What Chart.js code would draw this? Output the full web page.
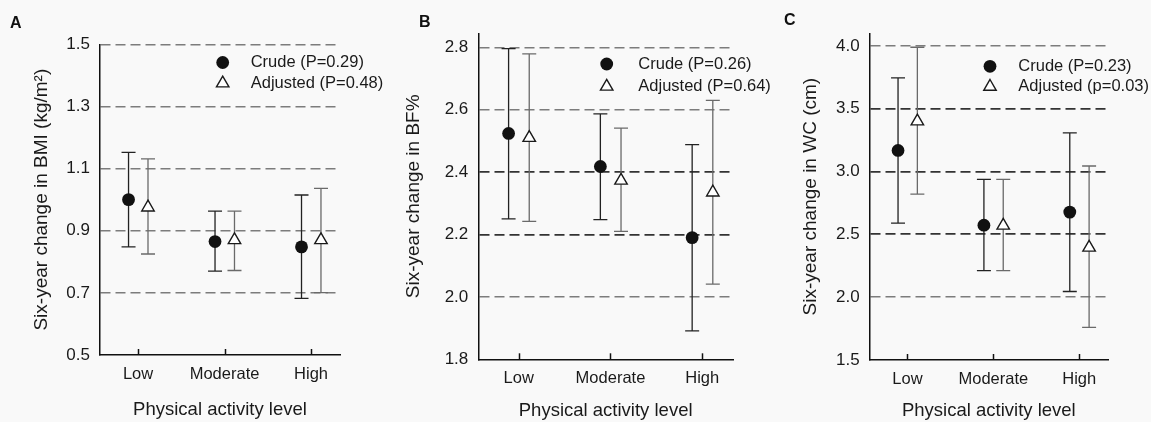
<!DOCTYPE html>
<html>
<head>
<meta charset="utf-8">
<script src="https://cdn.jsdelivr.net/npm/chart.js@4.4.1/dist/chart.umd.min.js"></script>
<style>
  body { margin: 0; background: #f9f9f9; }
  #wrap { position: relative; width: 1151px; height: 422px; overflow: hidden; font-family: "Liberation Sans", Arial, sans-serif; }
  #wrap canvas { position: absolute; left: 0; top: 0; }
  .tag { position: absolute; font-weight: bold; font-size: 16px; line-height: 16px; color: #111; }
</style>
</head>
<body>
<div id="wrap">
  <canvas id="chartA" width="1151" height="422"></canvas>
  <canvas id="chartB" width="1151" height="422"></canvas>
  <canvas id="chartC" width="1151" height="422"></canvas>
  <div class="tag" style="left:10px;top:14.5px">A</div>
  <div class="tag" style="left:419px;top:14px">B</div>
  <div class="tag" style="left:784px;top:11.5px">C</div>
</div>
<script>
const categories = ['Low', 'Moderate', 'High'];

// A: BMI
const bmiTicks = [0.5, 0.7, 0.9, 1.1, 1.3, 1.5];
const bmiLegend = ['Crude (P=0.29)', 'Adjusted (P=0.48)'];
const bmiCrude = [1.000, 0.865, 0.848];
const bmiCrudeLo = [0.848, 0.770, 0.682];
const bmiCrudeHi = [1.152, 0.963, 1.015];
const bmiAdj = [0.975, 0.870, 0.870];
const bmiAdjLo = [0.825, 0.772, 0.701];
const bmiAdjHi = [1.131, 0.963, 1.036];

// B: body fat %
const bfTicks = [1.8, 2.0, 2.2, 2.4, 2.6, 2.8];
const bfLegend = ['Crude (P=0.26)', 'Adjusted (P=0.64)'];
const bfCrude = [2.524, 2.418, 2.190];
const bfCrudeLo = [2.250, 2.248, 1.891];
const bfCrudeHi = [2.796, 2.587, 2.488];
const bfAdj = [2.510, 2.373, 2.335];
const bfAdjLo = [2.242, 2.210, 2.041];
const bfAdjHi = [2.779, 2.541, 2.630];

// C: waist circumference
const wcTicks = [1.5, 2.0, 2.5, 3.0, 3.5, 4.0];
const wcLegend = ['Crude (P=0.23)', 'Adjusted (p=0.03)'];
const wcCrude = [3.168, 2.573, 2.677];
const wcCrudeLo = [2.589, 2.212, 2.045];
const wcCrudeHi = [3.745, 2.937, 3.307];
const wcAdj = [3.400, 2.570, 2.395];
const wcAdjLo = [2.820, 2.212, 1.760];
const wcAdjHi = [3.989, 2.937, 3.044];

const W = 1151, H = 422;
const Y_WIDTH = 100;
const TXT = '#1a1a1a';
const FONT = '"Liberation Sans", Arial, sans-serif';
Chart.defaults.font.family = FONT;
Chart.defaults.color = TXT;

const errorBars = {
  id: 'errorBars',
  beforeDatasetsDraw(chart) {
    const ctx = chart.ctx, xs = chart.scales.x, ys = chart.scales.y;
    chart.data.datasets.forEach(ds => {
      ctx.save();
      ctx.strokeStyle = ds.barColor;
      ctx.lineWidth = 1.3;
      ds.data.forEach((p, i) => {
        const x = xs.getPixelForValue(p.x);
        const yl = ys.getPixelForValue(ds.lo[i]);
        const yh = ys.getPixelForValue(ds.hi[i]);
        ctx.beginPath();
        ctx.moveTo(x, yl); ctx.lineTo(x, yh);
        ctx.moveTo(x - 7, yl); ctx.lineTo(x + 7, yl);
        ctx.moveTo(x - 7, yh); ctx.lineTo(x + 7, yh);
        ctx.stroke();
      });
      ctx.restore();
    });
  }
};

// tick marks on the x axis point into the plot
const innerTicks = {
  id: 'innerTicks',
  afterDraw(chart) {
    const ctx = chart.ctx, xs = chart.scales.x, b = chart.chartArea.bottom;
    ctx.save();
    ctx.strokeStyle = '#111';
    ctx.lineWidth = 1.5;
    xs.ticks.forEach(t => {
      const x = Math.round(xs.getPixelForValue(t.value)) + 0.5;
      ctx.beginPath(); ctx.moveTo(x, b); ctx.lineTo(x, b - 6); ctx.stroke();
    });
    ctx.restore();
  }
};

const panelLegend = {
  id: 'panelLegend',
  afterDraw(chart, args, opts) {
    const ctx = chart.ctx;
    chart.data.datasets.forEach((ds, i) => {
      const y = opts.rows[i];
      ctx.save();
      ctx.beginPath();
      if (ds.pointStyle === 'circle') {
        ctx.arc(opts.mx, y, ds.pointRadius, 0, Math.PI * 2);
      } else {
        const r = ds.pointRadius;
        for (let k = 0; k < 3; k++) {
          const a = k * 2 * Math.PI / 3;
          const px = opts.mx + Math.sin(a) * r, py = y - Math.cos(a) * r;
          k === 0 ? ctx.moveTo(px, py) : ctx.lineTo(px, py);
        }
        ctx.closePath();
      }
      ctx.fillStyle = ds.backgroundColor;
      ctx.fill();
      if (ds.borderWidth) { ctx.lineWidth = ds.borderWidth; ctx.strokeStyle = ds.borderColor; ctx.stroke(); }
      ctx.font = '16.5px ' + FONT;
      ctx.fillStyle = TXT;
      ctx.textBaseline = 'middle';
      ctx.fillText(ds.label, opts.tx, y);
      ctx.restore();
    });
  }
};

function makePanel(id, yTitle, ticks, legend, crude, crudeLo, crudeHi, adj, adjLo, adjHi, lay) {
  const yMin = ticks[0];
  new Chart(document.getElementById(id), {
    type: 'scatter',
    data: {
      datasets: [
        {
          label: legend[0],
          data: categories.map((c, i) => ({ x: i + 1 - 0.11, y: crude[i] })),
          lo: crudeLo, hi: crudeHi, barColor: '#222',
          pointStyle: 'circle', pointRadius: 6.4,
          backgroundColor: '#111', borderColor: '#111', borderWidth: 0
        },
        {
          label: legend[1],
          data: categories.map((c, i) => ({ x: i + 1 + 0.115, y: adj[i] })),
          lo: adjLo, hi: adjHi, barColor: '#6a6a6a',
          pointStyle: 'triangle', pointRadius: 7.2,
          backgroundColor: '#fff', borderColor: '#1a1a1a', borderWidth: 1.4
        }
      ]
    },
    options: {
      responsive: false,
      animation: false,
      devicePixelRatio: 1,
      layout: { padding: { left: lay.axisX - Y_WIDTH, right: W - lay.right, top: lay.top, bottom: 0 } },
      plugins: {
        legend: { display: false },
        tooltip: { enabled: false },
        panelLegend: lay.legend
      },
      scales: {
        x: {
          type: 'linear', min: 0.56, max: 3.335,
          afterBuildTicks: s => { s.ticks = categories.map((c, i) => ({ value: i + 1 })); },
          afterFit: s => { s.height = H - lay.bottom; },
          grid: { display: false },
          border: { display: true, color: '#111', width: 1.5 },
          ticks: {
            callback: v => categories[Math.round(v) - 1] || '',
            autoSkip: false, maxRotation: 0, padding: 1.5,
            font: { size: 16.5 }, color: TXT
          },
          title: {
            display: true, text: 'Physical activity level',
            font: { size: 18.5 }, color: TXT,
            padding: { top: 0, bottom: lay.xTitlePad }
          }
        },
        y: {
          min: yMin, max: lay.yMax,
          afterBuildTicks: s => { s.ticks = ticks.map(v => ({ value: v })); },
          afterFit: s => { s.width = Y_WIDTH; },
          grid: {
            drawTicks: false,
            color: c => (c.tick && c.tick.value === yMin) ? 'rgba(0,0,0,0)' :
              (lay.dark.includes(c.tick && c.tick.value) ? '#333' : '#7c7c7c'),
            lineWidth: c => (lay.dark.includes(c.tick && c.tick.value) ? 1.8 : 1.5)
          },
          border: { display: true, color: '#111', width: 1.5, dash: [10, 5] },
          ticks: { callback: v => v.toFixed(1), padding: 10, font: { size: 17 }, color: TXT },
          title: {
            display: true, text: yTitle,
            font: { size: 19 }, color: TXT,
            padding: { top: lay.titleX - (lay.axisX - Y_WIDTH) - 11.4, bottom: 0 }
          }
        }
      }
    },
    plugins: [errorBars, innerTicks, panelLegend]
  });
}

makePanel('chartA', 'Six-year change in BMI (kg/m²)', bmiTicks, bmiLegend,
  bmiCrude, bmiCrudeLo, bmiCrudeHi, bmiAdj, bmiAdjLo, bmiAdjHi,
  { axisX: 100, right: 340, top: 44.3, bottom: 355, yMax: 1.5, titleX: 41.5, xTitlePad: 0.5, dark: [],
    legend: { mx: 222.7, tx: 250.7, rows: [62.5, 83.3] } });

makePanel('chartB', 'Six-year change in BF%', bfTicks, bfLegend,
  bfCrude, bfCrudeLo, bfCrudeHi, bfAdj, bfAdjLo, bfAdjHi,
  { axisX: 478.3, right: 733, top: 33.3, bottom: 359.3, yMax: 2.845, titleX: 414, xTitlePad: 0, dark: [2.4, 2.2],
    legend: { mx: 606.7, tx: 638.3, rows: [64, 86.5] } });

makePanel('chartC', 'Six-year change in WC (cm)', wcTicks, wcLegend,
  wcCrude, wcCrudeLo, wcCrudeHi, wcAdj, wcAdjLo, wcAdjHi,
  { axisX: 869.7, right: 1108, top: 33.3, bottom: 360, yMax: 4.1, titleX: 811, xTitlePad: 0, dark: [3.5, 3.0, 2.5],
    legend: { mx: 990, tx: 1018.3, rows: [66.3, 86.7] } });
</script>
</body>
</html>
